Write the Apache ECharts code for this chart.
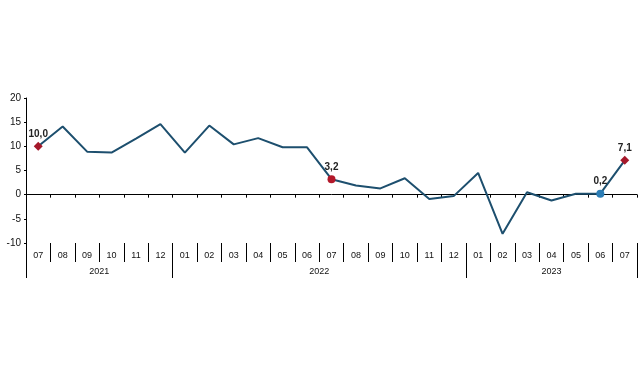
<!DOCTYPE html>
<html><head><meta charset="utf-8">
<script src="https://cdn.jsdelivr.net/npm/echarts@6/dist/echarts.min.js"></script>
<style>html,body{margin:0;padding:0;background:#fff}#c{width:641px;height:380px}</style>
</head><body><div id="c"></div>
<script>
const months = ['07','08','09','10','11','12','01','02','03','04','05','06','07','08','09','10','11','12','01','02','03','04','05','06','07'];
const values = [10.0,14.1,8.9,8.7,11.6,14.6,8.7,14.3,10.4,11.7,9.8,9.8,3.2,1.9,1.3,3.4,-0.9,-0.3,4.5,-8.1,0.5,-1.2,0.2,0.2,7.1];
const years = ['2021','2022','2023'];
const yearBounds = [0,6,18,25];
const yTicks = [-10,-5,0,5,10,15,20];
// highlighted points: index -> style
const highlights = {0:{symbol:'diamond',color:'#a5182a'},12:{symbol:'circle',color:'#b3182a'},23:{symbol:'circle',color:'#2c7db5'},24:{symbol:'diamond',color:'#a5182a'}};

const yearCenters = years.map((y,i)=>(yearBounds[i]+yearBounds[i+1])/2);
const font = 'Liberation Sans, Arial, sans-serif';
const chart = echarts.init(document.getElementById('c'));
const data = values.map((v,i)=>{
  const h = highlights[i];
  if (!h) return {value:v};
  return {value:v, symbol:h.symbol, symbolSize:h.symbol==='diamond'?9:8,
    itemStyle:{color:h.color,opacity:1},
    label:{show:true, position:'top', distance:3, formatter:(p)=>p.value.toFixed(1).replace('.',','),
      fontFamily:font, fontSize:10, fontWeight:'bold', color:'#222'}};
});
chart.setOption({
  animation:false,
  grid:{left:26,right:4,top:98,bottom:137},
  yAxis:{type:'value',min:yTicks[0],max:yTicks[yTicks.length-1],interval:5,
    axisLine:{show:true,lineStyle:{color:'#000',width:1}},
    axisTick:{show:true,length:2,lineStyle:{color:'#000'}},
    splitLine:{show:false},
    axisLabel:{fontFamily:font,fontSize:10,color:'#111',margin:5}},
  xAxis:[
    {type:'category',data:months,boundaryGap:true,
      axisLine:{onZero:true,lineStyle:{color:'#000',width:1}},
      axisTick:{show:true,length:3,lineStyle:{color:'#000'}},
      axisLabel:{show:false}},
    {type:'category',data:months,boundaryGap:true,position:'bottom',
      axisLine:{show:false,onZero:false},
      axisTick:{show:true,length:19,interval:0,lineStyle:{color:'#000'}},
      axisLabel:{show:true,interval:0,margin:8,fontFamily:font,fontSize:9,color:'#111'}},
    {type:'value',min:0,max:25,position:'bottom',
      axisLine:{show:false,onZero:false},
      splitLine:{show:false},
      axisTick:{show:true,length:35,customValues:yearBounds,lineStyle:{color:'#000'}},
      axisLabel:{show:true,customValues:yearCenters,margin:24,fontFamily:font,fontSize:9,color:'#111',
        formatter:(v)=>years[yearCenters.indexOf(v)]||''}}
  ],
  series:[{type:'line',xAxisIndex:0,data:data,
    lineStyle:{color:'#1d4f6e',width:2},
    itemStyle:{color:'#1d4f6e',opacity:0},
    symbol:'none',showSymbol:true,
    symbolSize:0}]
});
</script></body></html>
